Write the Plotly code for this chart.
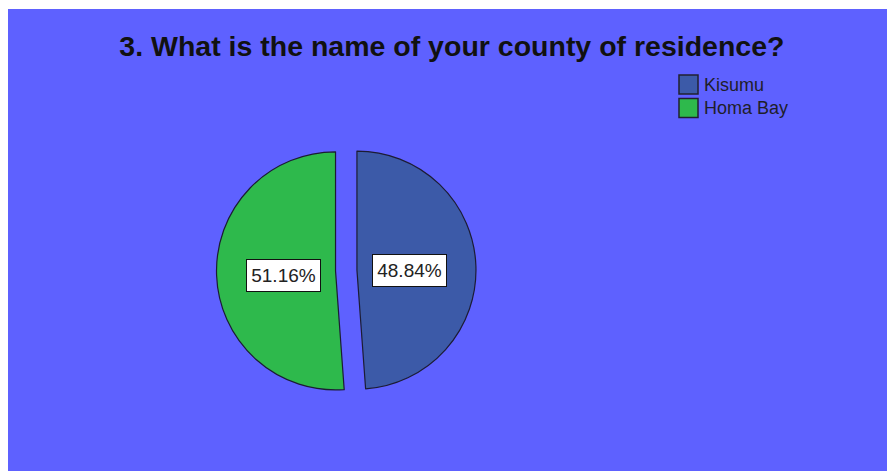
import math
import plotly.graph_objects as go

# Survey responses: county of residence (percent of respondents)
counties = ["Kisumu", "Homa Bay"]
shares = [48.84, 51.16]
slice_colors = ["#3C5AA8", "#2EB94C"]
title_text = "3. What is the name of your county of residence?"

# Figure geometry
W, H = 887, 471
M_L, M_T, M_R, M_B = 8, 9, 0, 0
PW, PH = W - M_L - M_R, H - M_T - M_B
BG = "#5E61FF"
EDGE = "#1C1C34"
PULL = 0.09

# Pie domain (paper fractions)
dom_x = [0.2372, 0.5324]
dom_y = [0.1527, 0.7153]

fig = go.Figure()
fig.add_trace(go.Pie(
    labels=counties,
    values=shares,
    marker=dict(colors=slice_colors, line=dict(color=EDGE, width=1.2)),
    pull=[PULL] * len(shares),
    sort=False,
    direction="clockwise",
    rotation=0,
    textinfo="none",
    hoverinfo="label+percent",
    showlegend=False,
    domain=dict(x=dom_x, y=dom_y),
))

# Blue panel behind everything
fig.add_shape(type="rect", xref="paper", yref="paper", x0=0, x1=1, y0=0, y1=1,
              fillcolor=BG, line=dict(width=0), layer="below")

# Percentage labels in boxed annotations, placed at each slice's mid-angle
dom_w_px = (dom_x[1] - dom_x[0]) * PW
dom_h_px = (dom_y[1] - dom_y[0]) * PH
radius = min(dom_w_px, dom_h_px) / (2 + 2 * PULL)
cx = (dom_x[0] + dom_x[1]) / 2
cy = (dom_y[0] + dom_y[1]) / 2
total = sum(shares)
start = 0.0
for name, val in zip(counties, shares):
    frac = val / total
    mid = (start + frac / 2) * 2 * math.pi
    start += frac
    dist = (PULL + 0.44) * radius
    ax = cx + dist * math.sin(mid) / PW
    ay = cy + dist * math.cos(mid) / PH - 2.5 / PH
    fig.add_annotation(
        x=ax, y=ay, xref="paper", yref="paper",
        text=f"{val:.2f}%", showarrow=False,
        font=dict(family="Liberation Sans, Arial, sans-serif", size=19, color="#222222"),
        bgcolor="#FFFFFF", bordercolor="#111111", borderwidth=1, borderpad=3,
        width=67, height=25,
        xanchor="center", yanchor="middle",
    )

# Legend: square swatches with county names
LEG_X0, LEG_TOP, SW, ROW = 679, 75, 19, 23.5
for i, (name, col) in enumerate(zip(counties, slice_colors)):
    top = LEG_TOP + ROW * i
    fig.add_shape(type="rect", xref="paper", yref="paper",
                  x0=(LEG_X0 - M_L) / PW, x1=(LEG_X0 + SW - M_L) / PW,
                  y0=1 - (top + SW - M_T) / PH, y1=1 - (top - M_T) / PH,
                  fillcolor=col, line=dict(color="#202030", width=1.5))
    fig.add_annotation(
        x=(LEG_X0 + SW + 4 - M_L) / PW, y=1 - (top + SW / 2 - M_T) / PH,
        xref="paper", yref="paper", text=name, showarrow=False,
        xanchor="left", yanchor="middle",
        font=dict(family="Liberation Sans, Arial, sans-serif", size=18, color="#1E1E2A"),
    )

fig.update_layout(
    width=W, height=H,
    margin=dict(l=M_L, r=M_R, t=M_T, b=M_B, pad=0),
    paper_bgcolor="#FFFFFF",
    plot_bgcolor=BG,
    showlegend=False,
    title=dict(
        text=f"<b>{title_text}</b>",
        x=0.505, xref="paper", xanchor="center",
        y=1 - 46 / H, yref="container", yanchor="middle",
        font=dict(family="Liberation Sans, Arial, sans-serif", size=28.5, color="#111111"),
    ),
)

fig.write_html("out.html")
